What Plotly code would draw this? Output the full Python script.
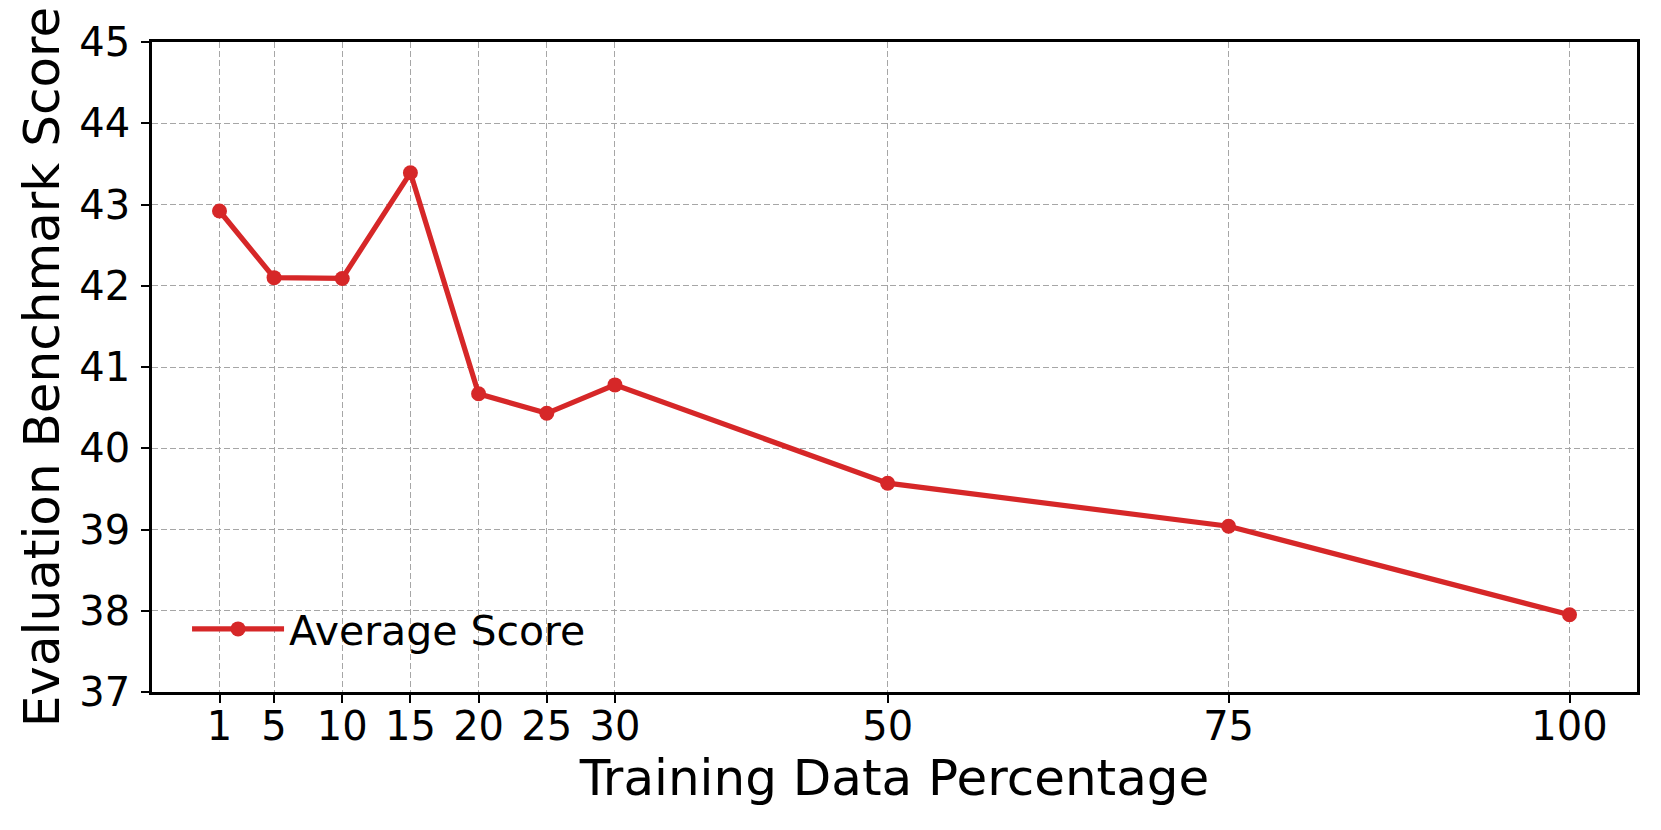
import plotly.graph_objects as go

# Data
percentages = [1, 5, 10, 15, 20, 25, 30, 50, 75, 100]
average_score = [42.92, 42.10, 42.09, 43.39, 40.67, 40.43, 40.78, 39.57, 39.04, 37.95]
y_ticks = [37, 38, 39, 40, 41, 42, 43, 44, 45]

RED = "#d62728"
FONT = "DejaVu Sans"
GRID = "#a6a6a6"

fig = go.Figure()
fig.add_trace(go.Scatter(
    x=percentages, y=average_score, mode="lines+markers", name="Average Score",
    line=dict(color=RED, width=5.2),
    marker=dict(color=RED, size=15),
))

axis_common = dict(
    showline=True, linecolor="black", linewidth=2.5, mirror=True,
    ticks="outside", ticklen=8, tickwidth=2, tickcolor="black",
    showgrid=True, gridcolor=GRID, gridwidth=1, griddash="6px,3px",
    zeroline=False, tickfont=dict(family=FONT, size=40, color="black"),
    automargin=False,
)

# page body has an 8px default margin; size the figure so the page fits the window
fig.update_layout(
    width=1645, height=814,
    margin=dict(l=144, r=16, t=34, b=130),
    paper_bgcolor="white", plot_bgcolor="white",
    font=dict(family=FONT, color="black"),
    showlegend=True,
    legend=dict(
        x=0.0236, y=0.045, xanchor="left", yanchor="bottom",
        bgcolor="rgba(0,0,0,0)", borderwidth=0,
        font=dict(family=FONT, size=41, color="black"),
        itemwidth=92,
    ),
    xaxis=dict(
        range=[-3.95, 104.95], tickmode="array", tickvals=percentages,
        ticktext=[str(p) for p in percentages],
        title=dict(text="Training Data Percentage", font=dict(family=FONT, size=50), standoff=11),
        ticklabelstandoff=-11,
        **axis_common,
    ),
    yaxis=dict(
        range=[37, 45], tickmode="array", tickvals=y_ticks,
        ticktext=[str(v) for v in y_ticks],
        title=dict(text="Evaluation Benchmark Score", font=dict(family=FONT, size=50), standoff=4),
        ticklabelstandoff=3,
        **axis_common,
    ),
)

fig.write_html("out.html")
